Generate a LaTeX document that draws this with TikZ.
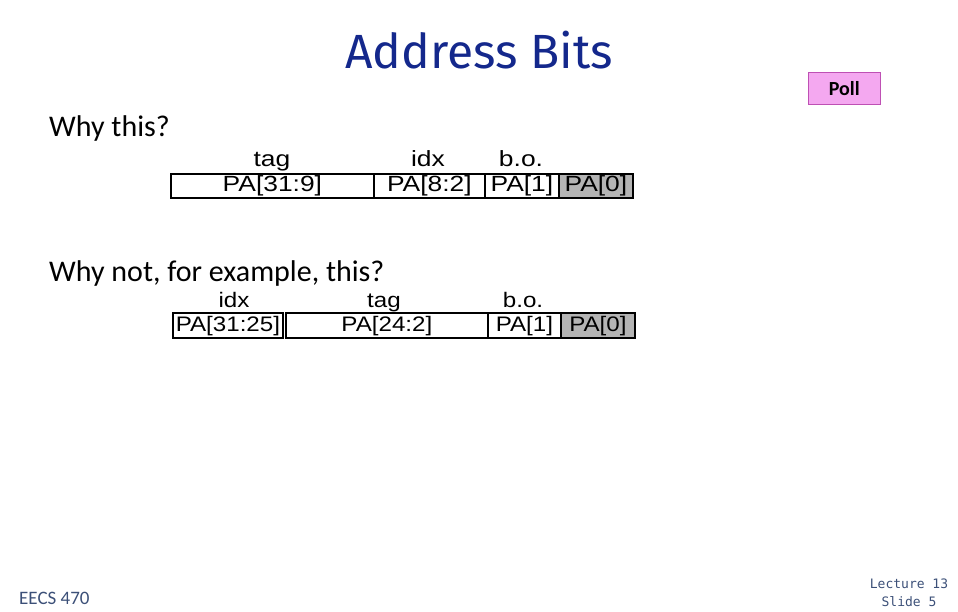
\documentclass[tikz,border=0pt]{standalone}
\usepackage{fontspec}
\setmainfont{Carlito}
\newfontfamily\arialf[FakeStretch=1.2]{Liberation Sans}
\newfontfamily\arialg[FakeStretch=1.15]{Liberation Sans}
\newfontfamily\comicf{Fira Sans}
\newfontfamily\monof{DejaVu Sans Mono}
\definecolor{titleblue}{RGB}{20,40,140}
\definecolor{footblue}{RGB}{60,80,120}
\definecolor{pollfill}{RGB}{244,168,240}
\definecolor{pollline}{RGB}{190,80,180}
\definecolor{cellgray}{RGB}{180,180,180}
\begin{document}
\begin{tikzpicture}[x=1pt,y=-1pt,
  cell/.style={draw=black,line width=1.8pt,minimum height=24pt,inner sep=0pt,text height=15pt,text depth=4pt,font=\arialf\fontsize{22}{22}\selectfont,anchor=north west},
  cellb/.style={cell,minimum height=25pt,text height=16pt,text depth=3pt,font=\arialg\fontsize{21}{21}\selectfont},
  lab/.style={font=\arialf\fontsize{22}{22}\selectfont,inner sep=0pt,anchor=base},
  labb/.style={lab,font=\arialg\fontsize{21}{21}\selectfont},
  q/.style={font=\fontsize{30}{30}\selectfont,anchor=base west,inner sep=0pt}]
\useasboundingbox (0,0) rectangle (958,612);
\node[font=\comicf\fontsize{48}{48}\selectfont,text=titleblue,inner sep=0pt,anchor=base] (title) at (479,69) {Address Bits};
\node[draw=pollline,fill=pollfill,minimum width=72pt,minimum height=32pt,inner sep=0pt,font=\bfseries\fontsize{20}{20}\selectfont,anchor=north west] (poll) at (808,72) {Poll};
\node[q] (q1) at (49,137) {Why this?};
\node[q] (q2) at (49,281) {Why not, for example, this?};
% first layout
\node[cell,minimum width=203pt] (a1) at (170,173) {PA[31:9]};
\node[cell,minimum width=111pt] (a2) at (373,173) {PA[8:2]};
\node[cell,minimum width=74pt] (a3) at (484,173) {PA[1]};
\node[cell,minimum width=74pt,fill=cellgray] (a4) at (558,173) {PA[0]};
\node[lab] (la1) at (272,167) {tag};
\node[lab] (la2) at (428,167) {idx};
\node[lab] (la3) at (521,167) {b.o.};
% second layout
\node[cellb,minimum width=110pt] (b1) at (172,312) {PA[31:25]};
\node[cellb,minimum width=202pt] (b2) at (285,312) {PA[24:2]};
\node[cellb,minimum width=73pt] (b3) at (487,312) {PA[1]};
\node[cellb,minimum width=74pt,fill=cellgray] (b4) at (560,312) {PA[0]};
\node[labb] (lb1) at (234,307) {idx};
\node[labb] (lb2) at (384,307) {tag};
\node[labb] (lb3) at (523,307) {b.o.};
% footer
\node[font=\fontsize{19}{19}\selectfont,text=footblue,anchor=base west,inner sep=0pt] (eecs) at (19,604) {EECS 470};
\node[font=\monof\fontsize{13}{18}\selectfont,text=footblue,align=center,inner sep=0pt] (slide) at (909,593) {Lecture 13\\Slide 5};
\end{tikzpicture}
\end{document}
